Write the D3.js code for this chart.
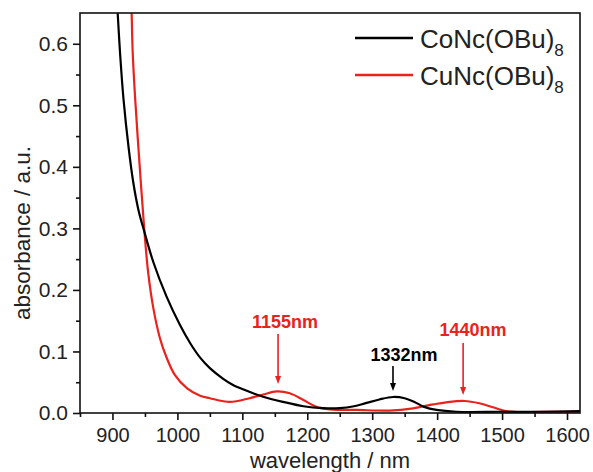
<!DOCTYPE html>
<html><head><meta charset="utf-8">
<script src="https://cdn.jsdelivr.net/npm/d3@7"></script>
<style>body{margin:0;background:#fff;}svg{display:block;font-family:"Liberation Sans",Arial,sans-serif;}</style>
</head><body>
<svg id="c" width="593" height="472"></svg>
<script>
// ---- data ----
const coWl  = [900, 908, 912, 917, 925, 932, 940, 949, 963, 983, 1004, 1020, 1035, 1050, 1070, 1085, 1101, 1132, 1163, 1194, 1224, 1250, 1272, 1290, 1311, 1332, 1350, 1365, 1380, 1399, 1430, 1500, 1560, 1620];
const coAbs = [0.80, 0.65, 0.58, 0.51, 0.43, 0.375, 0.33, 0.295, 0.245, 0.19, 0.143, 0.113, 0.09, 0.073, 0.056, 0.046, 0.0385, 0.0265, 0.018, 0.011, 0.0078, 0.0078, 0.011, 0.016, 0.022, 0.026, 0.024, 0.018, 0.010, 0.005, 0.002, 0.002, 0.002, 0.003];
const cuWl  = [925, 929.5, 931, 935, 942, 949, 955, 963, 973, 983, 996, 1015, 1035, 1050, 1081, 1111, 1132, 1153, 1173, 1194, 1214, 1235, 1276, 1327, 1363, 1394, 1414, 1442, 1465, 1486, 1506, 1527, 1580, 1620];
const cuAbs = [0.78, 0.65, 0.59, 0.51, 0.40, 0.298, 0.228, 0.17, 0.122, 0.091, 0.062, 0.040, 0.028, 0.024, 0.018, 0.024, 0.030, 0.035, 0.032, 0.021, 0.010, 0.006, 0.005, 0.004, 0.0076, 0.014, 0.0174, 0.0195, 0.0158, 0.0093, 0.003, 0.0015, 0.002, 0.002];
const seriesNames = ["CoNc(OBu)", "CuNc(OBu)"];
const seriesColors = ["#000000", "#e8231c"];
const xTicks = [900, 1000, 1100, 1200, 1300, 1400, 1500, 1600];
const yTicks = [0.0, 0.1, 0.2, 0.3, 0.4, 0.5, 0.6];
const peaks = [{wl:1155, label:"1155nm", s:1}, {wl:1332, label:"1332nm", s:0}, {wl:1440, label:"1440nm", s:1}];

// ---- layout ----
const L = 80, R = 580, T = 13, B = 413;
const svg = d3.select("#c");
const x = d3.scaleLinear().domain([850, 1620]).range([L, R]);
const y = d3.scaleLinear().domain([0, 0.65]).range([B, T]);

svg.append("defs").append("clipPath").attr("id","clip")
  .append("rect").attr("x",L).attr("y",T).attr("width",R-L).attr("height",B-T);

const line = d3.line().x(d=>x(d[0])).y(d=>y(d[1])).curve(d3.curveCatmullRom.alpha(0.5));
const series = [d3.zip(coWl, coAbs), d3.zip(cuWl, cuAbs)];
[1,0].forEach(i=>{
  svg.append("path").datum(series[i]).attr("clip-path","url(#clip)")
    .attr("d", line).attr("fill","none").attr("stroke", seriesColors[i])
    .attr("stroke-width", 2.2).attr("stroke-linejoin","round");
});

// frame
svg.append("rect").attr("x",L).attr("y",T).attr("width",R-L).attr("height",B-T)
  .attr("fill","none").attr("stroke","#111").attr("stroke-width",1.6);

// axes
const xAxis = svg.append("g").attr("transform",`translate(0,${B})`)
  .call(d3.axisBottom(x).tickValues(xTicks).tickSize(7).tickPadding(8).tickFormat(d3.format("d")));
const xMinor = svg.append("g").attr("transform",`translate(0,${B})`)
  .call(d3.axisBottom(x).tickValues(d3.range(850, 1621, 50).filter(v=>v%100!==0)).tickSize(4).tickFormat(""));
const yAxis = svg.append("g").attr("transform",`translate(${L},0)`)
  .call(d3.axisLeft(y).tickValues(yTicks).tickSize(7).tickPadding(5).tickFormat(d3.format(".1f")));
const yMinor = svg.append("g").attr("transform",`translate(${L},0)`)
  .call(d3.axisLeft(y).tickValues([0.05,0.15,0.25,0.35,0.45,0.55]).tickSize(4).tickFormat(""));
[xAxis,xMinor,yAxis,yMinor].forEach(g=>{
  g.select(".domain").remove();
  g.selectAll("line").attr("stroke","#111").attr("stroke-width",1.6);
  g.selectAll("text").attr("font-family","Liberation Sans, Arial, sans-serif").attr("fill","#222");
});
xAxis.selectAll("text").attr("font-size",20);
yAxis.selectAll("text").attr("font-size",21);

// axis titles
svg.append("text").attr("x",(L+R)/2).attr("y",468).attr("text-anchor","middle")
  .attr("font-size",22).attr("fill","#222").text("wavelength / nm");
svg.append("text").attr("transform","translate(30,233) rotate(-90)").attr("text-anchor","middle")
  .attr("font-size",22.5).attr("fill","#222").text("absorbance / a.u.");

// legend
const lg = svg.append("g");
[0,1].forEach(i=>{
  const ly = 38 + i*37;
  lg.append("line").attr("x1",355).attr("x2",413).attr("y1",ly).attr("y2",ly)
    .attr("stroke",seriesColors[i]).attr("stroke-width",2.4);
  const t = lg.append("text").attr("x",420).attr("y",ly+10).attr("font-size",26).attr("fill","#222");
  t.append("tspan").text(seriesNames[i]);
  t.append("tspan").attr("font-size",17).attr("dy",8).text("8");
});

// peak annotations
const labelY = {1155:328, 1332:361, 1440:336};
const arrowTop = {1155:334, 1332:366, 1440:343};
const arrowTip = {1155:384, 1332:391, 1440:395};
peaks.forEach(p=>{
  const c = seriesColors[p.s];
  const px = x(p.wl);
  svg.append("text").attr("x", px + (p.wl===1332?11:(p.wl===1440?10:7))).attr("y", labelY[p.wl])
    .attr("text-anchor","middle").attr("font-size",18).attr("font-weight","bold").attr("fill",c).text(p.label);
  svg.append("line").attr("x1",px).attr("x2",px).attr("y1",arrowTop[p.wl]).attr("y2",arrowTip[p.wl]-6)
    .attr("stroke",c).attr("stroke-width",1.6);
  svg.append("path").attr("d",`M${px-3},${arrowTip[p.wl]-8}L${px+3},${arrowTip[p.wl]-8}L${px},${arrowTip[p.wl]}Z`).attr("fill",c);
});
</script>
</body></html>
